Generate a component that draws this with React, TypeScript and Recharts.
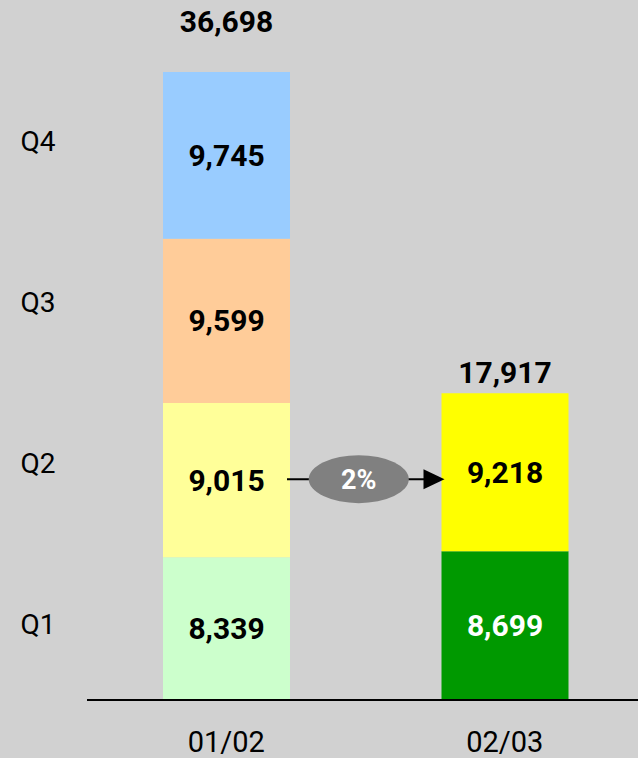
import { BarChart, Bar, XAxis, YAxis, LabelList, Cell } from "recharts";

document.body.style.margin = "0";

const periods = ["01/02", "02/03"];
const q1 = [8339, 8699];
const q2 = [9015, 9218];
const q3 = [9599, null];
const q4 = [9745, null];
const totals = [36698, 17917];
const quarterLabels = ["Q1", "Q2", "Q3", "Q4"];
const quarterTicks = [0.5, 1.5, 2.5, 3.5];

const yMax = 37630;
const W = 638;
const H = 758;
const barSize = 127;
const font = "Roboto, 'DejaVu Sans', sans-serif";

const fills: Record<string, string[]> = {
  q1: ["#CCFFCC", "#009900"],
  q2: ["#FFFF99", "#FFFF00"],
  q3: ["#FFCC99", "#FFCC99"],
  q4: ["#99CCFF", "#99CCFF"],
};
const labelColors: Record<string, string[]> = {
  q1: ["#000", "#fff"],
  q2: ["#000", "#000"],
  q3: ["#000", "#000"],
  q4: ["#000", "#000"],
};
// distance from bar top to total label baseline
const totalOffsets = [40, 10];

const keys = ["q1", "q2", "q3", "q4"];
const series: Record<string, (number | null)[]> = { q1, q2, q3, q4 };

const data = periods.map((period, i) => ({
  period,
  q1: q1[i],
  q2: q2[i],
  q3: q3[i],
  q4: q4[i],
}));

// last series with a value is the top of each stack
const topKey = periods.map((_, i) => {
  let top = keys[0];
  keys.forEach((k) => {
    if (series[k][i] != null) top = k;
  });
  return top;
});

const growth = Math.round((q2[1] / q2[0] - 1) * 100);

const fmt = (v: number) => v.toLocaleString("en-US");

function makeLabel(key: string, bandSize: number) {
  return (props: any) => {
    const { x, y, width, height, value, index } = props;
    if (value == null || index == null) return null;
    const cx = Number(x) + Number(width) / 2;
    const cy = Number(y) + Number(height) / 2;
    const parts = [
      <text
        key="v"
        x={cx}
        y={cy + 10.5}
        textAnchor="middle"
        fontFamily={font}
        fontWeight="bold"
        fontSize={30}
        fill={labelColors[key][index]}
      >
        {fmt(value)}
      </text>,
    ];
    if (topKey[index] === key) {
      parts.push(
        <text
          key="t"
          x={cx}
          y={Number(y) - totalOffsets[index]}
          textAnchor="middle"
          fontFamily={font}
          fontWeight="bold"
          fontSize={30}
          fill="#000"
        >
          {fmt(totals[index])}
        </text>
      );
    }
    // growth arrow from Q2 of the first period to the next bar
    if (key === "q2" && index === 0) {
      const x0 = Number(x) + Number(width) - 3;
      const x1 = Number(x) + bandSize + 3;
      const ex = Number(x) + Number(width) + (bandSize - Number(width)) / 2 - 7;
      parts.push(
        <g key="a">
          <line x1={x0} y1={cy - 1} x2={x1 - 18} y2={cy - 1} stroke="#000" strokeWidth={2} />
          <polygon
            points={`${x1 - 21},${cy - 11} ${x1},${cy - 1} ${x1 - 21},${cy + 9}`}
            fill="#000"
          />
          <ellipse cx={ex} cy={cy - 1} rx={50} ry={24} fill="#808080" />
          <text
            x={ex}
            y={cy + 9}
            textAnchor="middle"
            fontFamily={font}
            fontWeight="bold"
            fontSize={27}
            fill="#fff"
          >
            {growth}%
          </text>
        </g>
      );
    }
    return <g>{parts}</g>;
  };
}

const QTick = (props: any) => {
  const { y, payload } = props;
  return (
    <text x={38} y={y + 14} textAnchor="middle" fontFamily={font} fontSize={28} fill="#000">
      {quarterLabels[Math.floor(payload.value)]}
    </text>
  );
};

const PeriodTick = (props: any) => {
  const { x, payload } = props;
  return (
    <text x={x} y={752} textAnchor="middle" fontFamily={font} fontSize={29} fill="#000">
      {payload.value}
    </text>
  );
};

export default function App() {
  const margin = { top: 56, right: -6, left: 0, bottom: 0 };
  const yAxisWidth = 87;
  const bandSize = (W - margin.left - margin.right - yAxisWidth) / periods.length;
  return (
    <div style={{ width: W, height: H, background: "#D1D1D1" }}>
      <BarChart width={W} height={H} data={data} margin={margin} barSize={barSize}>
        <XAxis
          dataKey="period"
          height={58}
          axisLine={{ stroke: "#000", strokeWidth: 2 }}
          tickLine={false}
          tick={<PeriodTick />}
        />
        <YAxis
          yAxisId="q"
          type="number"
          domain={[0, 4]}
          ticks={quarterTicks}
          allowDataOverflow
          width={yAxisWidth}
          axisLine={false}
          tickLine={false}
          tick={<QTick />}
        />
        <YAxis yAxisId="v" type="number" domain={[0, yMax]} allowDataOverflow hide />
        {keys.map((k) => (
          <Bar key={k} dataKey={k} stackId="s" yAxisId="v" isAnimationActive={false}>
            {data.map((d, i) => (
              <Cell key={d.period} fill={fills[k][i]} />
            ))}
            <LabelList dataKey={k} content={makeLabel(k, bandSize)} />
          </Bar>
        ))}
      </BarChart>
    </div>
  );
}
